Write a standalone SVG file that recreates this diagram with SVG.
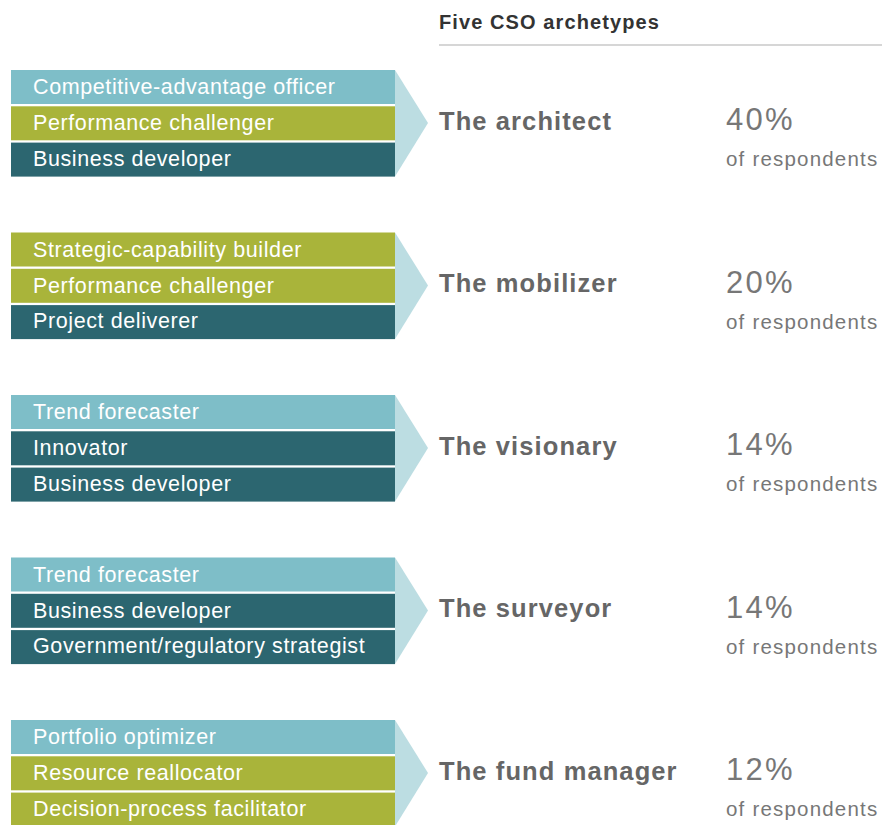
<svg xmlns="http://www.w3.org/2000/svg" width="882" height="825" viewBox="0 0 882 825">
<style>
.lt{fill:#7ebec8}.ol{fill:#a9b43a}.dk{fill:#2c6670}.chev{fill:#bcdde2}
.rt{font-family:"Liberation Sans",Arial,sans-serif;font-size:21.5px;fill:#fff;letter-spacing:0.6px}
.name{font-family:"Liberation Sans",Arial,sans-serif;font-size:25.5px;font-weight:bold;fill:#666;letter-spacing:1.1px}
.pct{font-family:"Liberation Sans",Arial,sans-serif;font-size:31px;fill:#777;letter-spacing:2.3px}
.resp{font-family:"Liberation Sans",Arial,sans-serif;font-size:20.5px;fill:#777;letter-spacing:1.2px}
.hdr{font-family:"Liberation Sans",Arial,sans-serif;font-size:20px;font-weight:bold;fill:#333;letter-spacing:1.1px}
</style>
<rect width="882" height="825" fill="#fff"/>
<g id="header">
<text class="hdr" x="439" y="29">Five CSO archetypes</text>
<line x1="439" y1="45" x2="882" y2="45" stroke="#c8c8c8" stroke-width="1.5"/>
</g>
<g id="architect" transform="translate(0,70)">
<polygon class="chev" points="395,0 428,53 395,106.5"/>
<rect class="lt" x="11" y="0" width="384" height="34"/>
<rect class="ol" x="11" y="36.3" width="384" height="34"/>
<rect class="dk" x="11" y="72.6" width="384" height="34"/>
<text class="rt" x="33" y="24">Competitive-advantage officer</text>
<text class="rt" x="33" y="60">Performance challenger</text>
<text class="rt" x="33" y="95.8">Business developer</text>
<text class="name" x="439" y="59.5">The architect</text>
<text class="pct" x="726" y="60">40%</text>
<text class="resp" x="726" y="96">of respondents</text>
</g>
<g id="mobilizer" transform="translate(0,232.5)">
<polygon class="chev" points="395,0 428,53 395,106.5"/>
<rect class="ol" x="11" y="0" width="384" height="34"/>
<rect class="ol" x="11" y="36.3" width="384" height="34"/>
<rect class="dk" x="11" y="72.6" width="384" height="34"/>
<text class="rt" x="33" y="24">Strategic-capability builder</text>
<text class="rt" x="33" y="60">Performance challenger</text>
<text class="rt" x="33" y="95.8">Project deliverer</text>
<text class="name" x="439" y="59.5">The mobilizer</text>
<text class="pct" x="726" y="60">20%</text>
<text class="resp" x="726" y="96">of respondents</text>
</g>
<g id="visionary" transform="translate(0,395)">
<polygon class="chev" points="395,0 428,53 395,106.5"/>
<rect class="lt" x="11" y="0" width="384" height="34"/>
<rect class="dk" x="11" y="36.3" width="384" height="34"/>
<rect class="dk" x="11" y="72.6" width="384" height="34"/>
<text class="rt" x="33" y="24">Trend forecaster</text>
<text class="rt" x="33" y="60">Innovator</text>
<text class="rt" x="33" y="95.8">Business developer</text>
<text class="name" x="439" y="59.5">The visionary</text>
<text class="pct" x="726" y="60">14%</text>
<text class="resp" x="726" y="96">of respondents</text>
</g>
<g id="surveyor" transform="translate(0,557.5)">
<polygon class="chev" points="395,0 428,53 395,106.5"/>
<rect class="lt" x="11" y="0" width="384" height="34"/>
<rect class="dk" x="11" y="36.3" width="384" height="34"/>
<rect class="dk" x="11" y="72.6" width="384" height="34"/>
<text class="rt" x="33" y="24">Trend forecaster</text>
<text class="rt" x="33" y="60">Business developer</text>
<text class="rt" x="33" y="95.8">Government/regulatory strategist</text>
<text class="name" x="439" y="59.5">The surveyor</text>
<text class="pct" x="726" y="60">14%</text>
<text class="resp" x="726" y="96">of respondents</text>
</g>
<g id="fund-manager" transform="translate(0,720)">
<polygon class="chev" points="395,0 428,53 395,106.5"/>
<rect class="lt" x="11" y="0" width="384" height="34"/>
<rect class="ol" x="11" y="36.3" width="384" height="34"/>
<rect class="ol" x="11" y="72.6" width="384" height="34"/>
<text class="rt" x="33" y="24">Portfolio optimizer</text>
<text class="rt" x="33" y="60">Resource reallocator</text>
<text class="rt" x="33" y="95.8">Decision-process facilitator</text>
<text class="name" x="439" y="59.5">The fund manager</text>
<text class="pct" x="726" y="60">12%</text>
<text class="resp" x="726" y="96">of respondents</text>
</g>
</svg>
